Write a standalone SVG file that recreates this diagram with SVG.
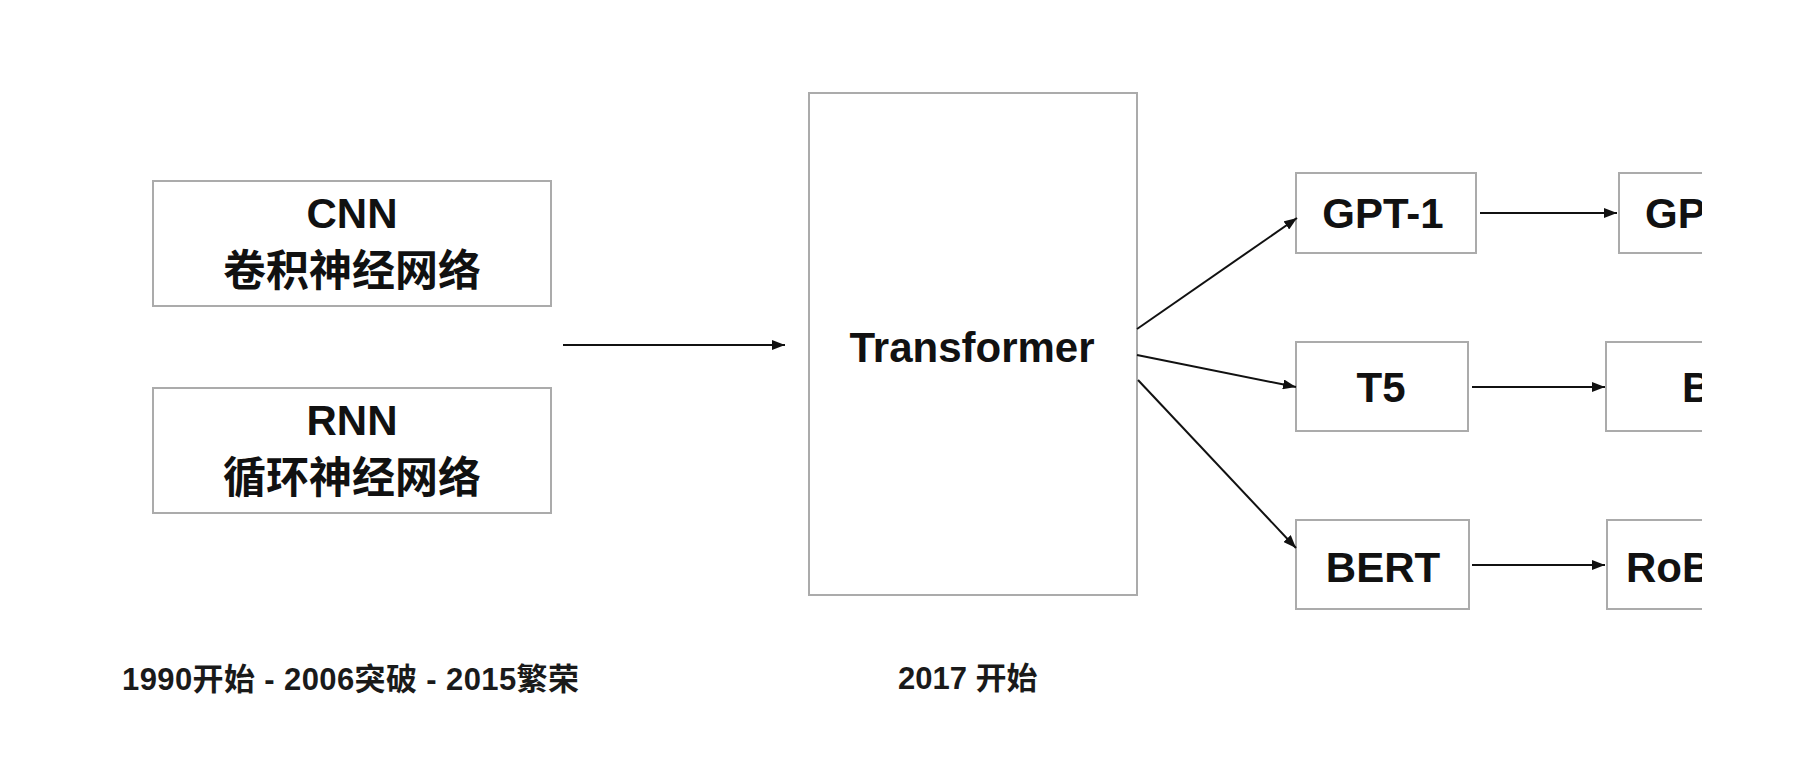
<svg xmlns="http://www.w3.org/2000/svg" width="1798" height="768" viewBox="0 0 1798 768">
  <style>
    .box { fill: #ffffff; stroke: #ababab; stroke-width: 2; }
    .lbl { font-family: "Liberation Sans", Arial, "Noto Sans CJK SC", sans-serif; font-weight: bold; font-size: 42px; fill: #111111; text-anchor: middle; }
    .cjk { font-family: "Noto Sans CJK SC", sans-serif; font-weight: bold; font-size: 43px; fill: #111111; text-anchor: middle; }
    .cut { font-family: "Liberation Sans", Arial, sans-serif; font-weight: bold; font-size: 42px; fill: #111111; }
    .note { font-family: "Liberation Sans", Arial, "Noto Sans CJK SC", sans-serif; font-weight: bold; font-size: 31px; fill: #1a1a1a; }
    .edge { stroke: #111111; stroke-width: 2; fill: none; marker-end: url(#arr); }
  </style>
  <defs>
    <marker id="arr" markerUnits="userSpaceOnUse" markerWidth="13" markerHeight="10" refX="13" refY="5" orient="auto">
      <path d="M0,0 L13,5 L0,10 z" fill="#111111"/>
    </marker>
    <clipPath id="crop">
      <rect x="0" y="0" width="1702" height="768"/>
    </clipPath>
  </defs>
  <rect x="0" y="0" width="1798" height="768" fill="#ffffff"/>

  <g id="cnn">
    <rect class="box" x="153" y="181" width="398" height="125"/>
    <text class="lbl" x="352" y="228">CNN</text>
    <text class="cjk" x="352" y="286">卷积神经网络</text>
  </g>
  <g id="rnn">
    <rect class="box" x="153" y="388" width="398" height="125"/>
    <text class="lbl" x="352" y="435">RNN</text>
    <text class="cjk" x="352" y="493">循环神经网络</text>
  </g>
  <g id="transformer">
    <rect class="box" x="809" y="93" width="328" height="502"/>
    <text class="lbl" x="972" y="362">Transformer</text>
  </g>
  <g id="gpt1">
    <rect class="box" x="1296" y="173" width="180" height="80"/>
    <text class="lbl" x="1383" y="228">GPT-1</text>
  </g>
  <g id="t5">
    <rect class="box" x="1296" y="342" width="172" height="89"/>
    <text class="lbl" x="1381" y="402">T5</text>
  </g>
  <g id="bert">
    <rect class="box" x="1296" y="520" width="173" height="89"/>
    <text class="lbl" x="1383" y="582">BERT</text>
  </g>
  <g id="gp" clip-path="url(#crop)">
    <rect class="box" x="1619" y="173" width="180" height="80"/>
    <text class="cut" x="1645" y="228">GP</text>
  </g>
  <g id="b" clip-path="url(#crop)">
    <rect class="box" x="1606" y="342" width="200" height="89"/>
    <text class="cut" x="1682" y="402">B</text>
  </g>
  <g id="rob" clip-path="url(#crop)">
    <rect class="box" x="1607" y="520" width="200" height="89"/>
    <text class="cut" x="1626" y="582">RoB</text>
  </g>

  <g id="connectors">
    <line class="edge" x1="563" y1="345" x2="785" y2="345"/>
    <line class="edge" x1="1137" y1="329" x2="1297" y2="218"/>
    <line class="edge" x1="1137" y1="355" x2="1296" y2="387"/>
    <line class="edge" x1="1138" y1="380" x2="1296" y2="548"/>
    <line class="edge" x1="1480" y1="213" x2="1617" y2="213"/>
    <line class="edge" x1="1472" y1="387" x2="1605" y2="387"/>
    <line class="edge" x1="1472" y1="565" x2="1605" y2="565"/>
  </g>

  <g id="notes">
    <text class="note" x="122" y="690" textLength="457" lengthAdjust="spacing">1990开始 - 2006突破 - 2015繁荣</text>
    <text class="note" x="898" y="689">2017 开始</text>
  </g>
</svg>
